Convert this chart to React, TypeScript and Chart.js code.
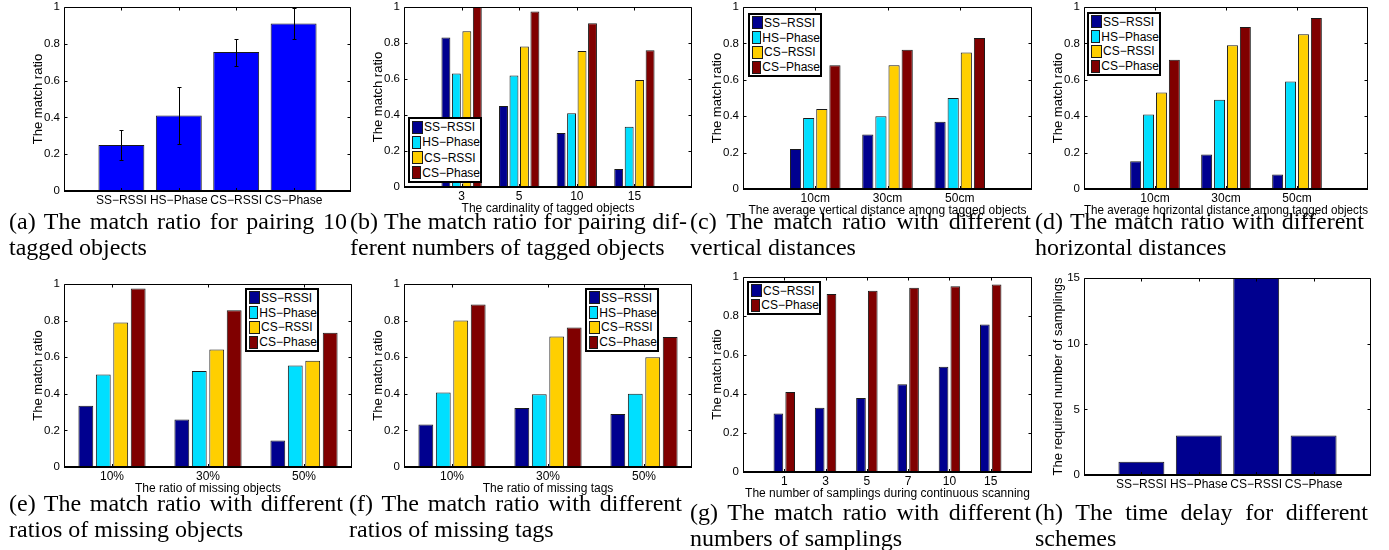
import React, { useEffect, useRef } from "react";
import { Chart, registerables } from "chart.js";

Chart.register(...registerables);
Chart.defaults.font.family = "'Liberation Sans', Arial, Helvetica, sans-serif";
Chart.defaults.font.size = 12;
Chart.defaults.color = "#000";

// ---------------- data ----------------
const schemes = ["SS−RSSI", "HS−Phase", "CS−RSSI", "CS−Phase"];
const ratioTicks = [0, 0.2, 0.4, 0.6, 0.8, 1];
const delayTicks = [0, 5, 10, 15];

// (a)
const aValues = [0.25, 0.41, 0.755, 0.91];
const aErrors = [0.083, 0.155, 0.073, 0.083];

// (b)
const bCats = ["3", "5", "10", "15"];
const bSS = [0.83, 0.45, 0.3, 0.1];
const bHS = [0.63, 0.62, 0.41, 0.335];
const bCR = [0.865, 0.78, 0.755, 0.595];
const bCP = [1.0, 0.975, 0.91, 0.76];

// (c)
const cCats = ["10cm", "30cm", "50cm"];
const cSS = [0.22, 0.3, 0.37];
const cHS = [0.39, 0.4, 0.5];
const cCR = [0.44, 0.68, 0.75];
const cCP = [0.68, 0.765, 0.83];

// (d)
const dCats = ["10cm", "30cm", "50cm"];
const dSS = [0.153, 0.19, 0.08];
const dHS = [0.41, 0.49, 0.59];
const dCR = [0.53, 0.79, 0.85];
const dCP = [0.71, 0.89, 0.94];

// (e)
const eCats = ["10%", "30%", "50%"];
const eSS = [0.335, 0.26, 0.145];
const eHS = [0.505, 0.525, 0.555];
const eCR = [0.79, 0.642, 0.58];
const eCP = [0.975, 0.857, 0.733];

// (f)
const fCats = ["10%", "30%", "50%"];
const fSS = [0.232, 0.322, 0.29];
const fHS = [0.407, 0.397, 0.4];
const fCR = [0.8, 0.713, 0.6];
const fCP = [0.888, 0.762, 0.711];

// (g)
const gCats = ["1", "3", "5", "7", "10", "15"];
const gSeries = ["CS−RSSI", "CS−Phase"];
const gCR = [0.3, 0.33, 0.38, 0.45, 0.54, 0.757];
const gCP = [0.41, 0.913, 0.93, 0.945, 0.953, 0.962];

// (h)
const hValues = [1, 3, 15, 3];

// ---------------- styles ----------------
const BLUE = "#0000FF";
const NAVY = "#00008F";
const CYAN = "#00DFFF";
const YELLOW = "#FFCF00";
const MAROON = "#800000";
const EDGE = "#1a1a1a";
const fourColors = [NAVY, CYAN, YELLOW, MAROON];

const PAD_L = 40;
const PAD_T = 14;
const PAD_R = 8;
const PAD_B = 30;
const TICK = 3;

type Series = { name: string; values: number[]; color: string };
type Spec = {
  box: [number, number, number, number];
  cats: string[];
  series: Series[];
  xmin: number;
  xmax: number;
  ymax: number;
  yTicks: number[];
  yTitle: string;
  xTitle?: string;
  catPct: number;
  barPct: number;
  errors?: number[];
  legend?: [number, number, number, number];
};

const four = (vals: number[][]): Series[] =>
  vals.map((v, i) => ({ name: schemes[i], values: v, color: fourColors[i] }));

const specs: Spec[] = [
  {
    box: [64, 7, 351, 191],
    cats: schemes,
    series: [{ name: "match ratio", values: aValues, color: BLUE }],
    xmin: 0, xmax: 5, ymax: 1, yTicks: ratioTicks,
    yTitle: "The match ratio",
    catPct: 0.8, barPct: 1,
    errors: aErrors,
  },
  {
    box: [404, 7, 692, 187],
    cats: bCats,
    series: four([bSS, bHS, bCR, bCP]),
    xmin: 0, xmax: 5, ymax: 1, yTicks: ratioTicks,
    yTitle: "The match ratio",
    xTitle: "The cardinality of tagged objects",
    catPct: 0.727, barPct: 0.85,
    legend: [408, 117, 74, 66],
  },
  {
    box: [743, 7, 1032, 189],
    cats: cCats,
    series: four([cSS, cHS, cCR, cCP]),
    xmin: 0, xmax: 4, ymax: 1, yTicks: ratioTicks,
    yTitle: "The match ratio",
    xTitle: "The average vertical distance among tagged objects",
    catPct: 0.727, barPct: 0.85,
    legend: [748, 13, 74, 64],
  },
  {
    box: [1084, 7, 1368, 189],
    cats: dCats,
    series: four([dSS, dHS, dCR, dCP]),
    xmin: 0, xmax: 4, ymax: 1, yTicks: ratioTicks,
    yTitle: "The match ratio",
    xTitle: "The average horizontal distance among tagged objects",
    catPct: 0.727, barPct: 0.85,
    legend: [1087, 12, 74, 64],
  },
  {
    box: [64, 284, 352, 467],
    cats: eCats,
    series: four([eSS, eHS, eCR, eCP]),
    xmin: 0.5, xmax: 3.5, ymax: 1, yTicks: ratioTicks,
    yTitle: "The match ratio",
    xTitle: "The ratio of missing objects",
    catPct: 0.727, barPct: 0.85,
    legend: [245, 288, 74, 64],
  },
  {
    box: [404, 284, 692, 467],
    cats: fCats,
    series: four([fSS, fHS, fCR, fCP]),
    xmin: 0.5, xmax: 3.5, ymax: 1, yTicks: ratioTicks,
    yTitle: "The match ratio",
    xTitle: "The ratio of missing tags",
    catPct: 0.727, barPct: 0.85,
    legend: [585, 288, 74, 64],
  },
  {
    box: [743, 277, 1032, 472],
    cats: gCats,
    series: [
      { name: gSeries[0], values: gCR, color: NAVY },
      { name: gSeries[1], values: gCP, color: MAROON },
    ],
    xmin: 0, xmax: 7, ymax: 1, yTicks: ratioTicks,
    yTitle: "The match ratio",
    xTitle: "The number of samplings during continuous scanning",
    catPct: 0.571, barPct: 0.82,
    legend: [747, 281, 74, 34],
  },
  {
    box: [1084, 278, 1371, 475],
    cats: schemes,
    series: [{ name: "samplings", values: hValues, color: NAVY }],
    xmin: 0, xmax: 5, ymax: 15, yTicks: delayTicks,
    yTitle: "The required number of samplings",
    catPct: 0.8, barPct: 1,
  },
];

const captions = [
  { left: 9, right: 347, top: 209, lines: ["(a) The match ratio for pairing 10", "tagged objects"] },
  { left: 350, right: 687, top: 209, lines: ["(b) The match ratio for pairing dif-", "ferent numbers of tagged objects"] },
  { left: 690, right: 1031, top: 209, lines: ["(c) The match ratio with different", "vertical distances"] },
  { left: 1035, right: 1364, top: 209, lines: ["(d) The match ratio with different", "horizontal distances"] },
  { left: 9, right: 343, top: 491, lines: ["(e) The match ratio with different", "ratios of missing objects"] },
  { left: 349, right: 682, top: 491, lines: ["(f) The match ratio with different", "ratios of missing tags"] },
  { left: 690, right: 1031, top: 500, lines: ["(g) The match ratio with different", "numbers of samplings"] },
  { left: 1035, right: 1368, top: 500, lines: ["(h) The time delay for different", "schemes"] },
];
const CAPTION_LINE = 26;

// ---------------- plugins ----------------
const framePlugin = {
  id: "matlabFrame",
  afterDraw(chart: any) {
    const { ctx, chartArea, scales } = chart;
    const xs = scales.x;
    const ys = scales.y;
    const l = Math.round(chartArea.left) + 0.5;
    const r = Math.round(chartArea.right) - 0.5;
    const t = Math.round(chartArea.top) + 0.5;
    const b = Math.round(chartArea.bottom);
    ctx.save();
    ctx.strokeStyle = "#000";
    ctx.lineWidth = 1;
    ctx.beginPath();
    ctx.moveTo(l, b);
    ctx.lineTo(l, t);
    ctx.lineTo(r, t);
    ctx.lineTo(r, b);
    for (const tk of ys.ticks) {
      const py = Math.round(ys.getPixelForValue(tk.value)) + 0.5;
      ctx.moveTo(l, py);
      ctx.lineTo(l + TICK, py);
      ctx.moveTo(r, py);
      ctx.lineTo(r - TICK, py);
    }
    for (const tk of xs.ticks) {
      const px = Math.round(xs.getPixelForValue(tk.value)) + 0.5;
      ctx.moveTo(px, b);
      ctx.lineTo(px, b - TICK);
      ctx.moveTo(px, t);
      ctx.lineTo(px, t + TICK);
    }
    ctx.stroke();
    ctx.lineWidth = 2;
    ctx.beginPath();
    ctx.moveTo(l - 0.5, b);
    ctx.lineTo(r + 0.5, b);
    ctx.stroke();
    ctx.restore();
  },
};

function errorBarPlugin(values: number[], errors: number[]) {
  return {
    id: "errorBars",
    afterDatasetsDraw(chart: any) {
      const { ctx, scales } = chart;
      const xs = scales.x;
      const ys = scales.y;
      ctx.save();
      ctx.strokeStyle = "#000";
      ctx.lineWidth = 1;
      ctx.beginPath();
      values.forEach((v, i) => {
        const px = Math.round(xs.getPixelForValue(i + 1)) + 0.5;
        const yt = Math.round(ys.getPixelForValue(v + errors[i])) + 0.5;
        const yb = Math.round(ys.getPixelForValue(v - errors[i])) + 0.5;
        ctx.moveTo(px, yt);
        ctx.lineTo(px, yb);
        ctx.moveTo(px - 2, yt);
        ctx.lineTo(px + 2, yt);
        ctx.moveTo(px - 2, yb);
        ctx.lineTo(px + 2, yb);
      });
      ctx.stroke();
      ctx.restore();
    },
  };
}

// ---------------- components ----------------
function Panel({ spec }: { spec: Spec }) {
  const ref = useRef<HTMLCanvasElement | null>(null);
  const [L, T, R, B] = spec.box;
  const width = R - L + PAD_L + PAD_R;
  const height = B - T + PAD_T + PAD_B;

  useEffect(() => {
    if (!ref.current) return;
    const plugins: any[] = [framePlugin];
    if (spec.errors) plugins.push(errorBarPlugin(spec.series[0].values, spec.errors));
    const chart = new Chart(ref.current, {
      type: "bar",
      data: {
        datasets: spec.series.map((s) => ({
          label: s.name,
          data: s.values.map((v, i) => ({ x: i + 1, y: v })),
          backgroundColor: s.color,
          borderColor: EDGE,
          borderWidth: 1,
          borderSkipped: false,
          categoryPercentage: spec.catPct,
          barPercentage: spec.barPct,
        })),
      },
      options: {
        responsive: false,
        animation: false,
        devicePixelRatio: 1,
        layout: { padding: { top: PAD_T, right: PAD_R, left: 0, bottom: 0 } },
        plugins: { legend: { display: false }, tooltip: { enabled: false } },
        scales: {
          x: {
            type: "linear",
            min: spec.xmin,
            max: spec.xmax,
            offset: false,
            grid: { display: false, drawTicks: false },
            border: { display: false },
            afterBuildTicks: (s: any) => {
              s.ticks = spec.cats.map((_, i) => ({ value: i + 1 }));
            },
            ticks: {
              autoSkip: false,
              maxRotation: 0,
              minRotation: 0,
              padding: 2,
              color: "#000",
              font: { size: 12 },
              callback: (_v: any, i: number) => spec.cats[i],
            },
            title: spec.xTitle
              ? {
                  display: true,
                  text: spec.xTitle,
                  color: "#000",
                  font: { size: 12 },
                  padding: { top: 0, bottom: 1.5 },
                }
              : { display: false },
            afterFit: (s: any) => {
              s.height = PAD_B;
            },
          },
          y: {
            type: "linear",
            min: 0,
            max: spec.ymax,
            grid: { display: false, drawTicks: false },
            border: { display: false },
            afterBuildTicks: (s: any) => {
              s.ticks = spec.yTicks.map((v) => ({ value: v }));
            },
            ticks: {
              padding: 4,
              color: "#000",
              font: { size: 11.5 },
              callback: (v: any) => String(v),
            },
            title: {
              display: true,
              text: spec.yTitle,
              color: "#000",
              font: { size: 13 },
              padding: { top: 6.7, bottom: 0 },
            },
            afterFit: (s: any) => {
              s.width = PAD_L;
            },
          },
        },
      } as any,
      plugins,
    });
    return () => chart.destroy();
  }, [spec]);

  return (
    <canvas
      ref={ref}
      width={width}
      height={height}
      style={{
        position: "absolute",
        left: L - PAD_L,
        top: T - PAD_T,
        width,
        height,
        display: "block",
      }}
    />
  );
}

function Legend({ spec }: { spec: Spec }) {
  if (!spec.legend) return null;
  const [x, y, w, h] = spec.legend;
  return (
    <div
      style={{
        position: "absolute",
        left: x,
        top: y,
        width: w,
        height: h,
        boxSizing: "border-box",
        border: "2px solid #000",
        background: "#fff",
        display: "flex",
        flexDirection: "column",
        justifyContent: "space-evenly",
        paddingLeft: 2,
        font: "12px 'Liberation Sans', Arial, Helvetica, sans-serif",
        color: "#000",
      }}
    >
      {spec.series.map((s) => (
        <div key={s.name} style={{ display: "flex", alignItems: "center", height: 14, whiteSpace: "nowrap" }}>
          <span
            style={{
              display: "inline-block",
              width: 11,
              height: 13,
              boxSizing: "border-box",
              background: s.color,
              border: `1px solid ${EDGE}`,
              marginRight: 1,
            }}
          />
          <span style={{ lineHeight: "14px" }}>{s.name}</span>
        </div>
      ))}
    </div>
  );
}

function Caption({ c }: { c: (typeof captions)[number] }) {
  const base: React.CSSProperties = {
    position: "absolute",
    left: c.left,
    width: c.right - c.left,
    font: "24px 'Liberation Serif', 'Times New Roman', serif",
    lineHeight: "24px",
    color: "#000",
    whiteSpace: "nowrap",
  };
  return (
    <>
      <div style={{ ...base, top: c.top, textAlign: "justify", textAlignLast: "justify" as any }}>{c.lines[0]}</div>
      <div style={{ ...base, top: c.top + CAPTION_LINE, textAlign: "left" }}>{c.lines[1]}</div>
    </>
  );
}

export default function App() {
  useEffect(() => {
    document.body.style.margin = "0";
  }, []);
  return (
    <div
      style={{
        position: "absolute",
        left: 0,
        top: 0,
        width: 1389,
        height: 550,
        background: "#fff",
        overflow: "hidden",
      }}
    >
      {specs.map((s, i) => (
        <Panel key={"p" + i} spec={s} />
      ))}
      {specs.map((s, i) => (
        <Legend key={"l" + i} spec={s} />
      ))}
      {captions.map((c, i) => (
        <Caption key={"c" + i} c={c} />
      ))}
    </div>
  );
}
